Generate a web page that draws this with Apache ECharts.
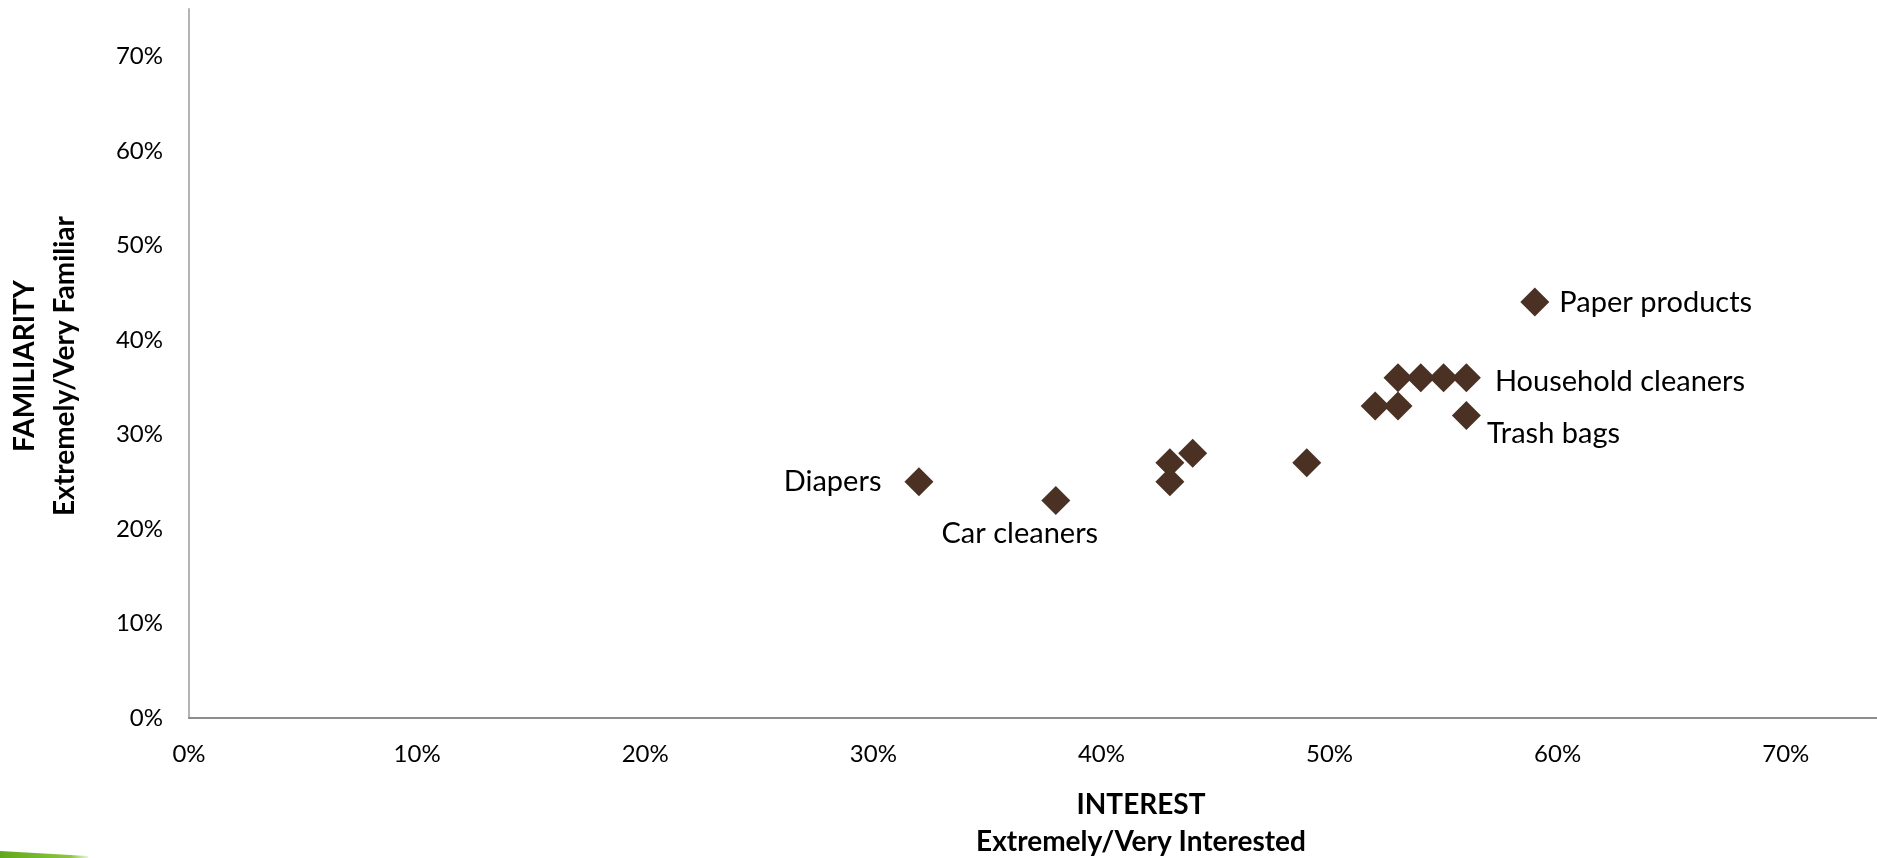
<!DOCTYPE html>
<html>
<head>
<meta charset="utf-8">
<script src="https://cdn.jsdelivr.net/npm/echarts@6/dist/echarts.min.js"></script>
<style>
  html, body { margin: 0; padding: 0; background: #fff; }
  #chart { width: 1877px; height: 858px; }
</style>
</head>
<body>
<div id="chart"></div>
<script>
// Product categories: share extremely/very interested (x) vs familiar (y)
const interest    = [0.32, 0.38, 0.43, 0.43, 0.44, 0.49, 0.52, 0.53, 0.53, 0.54, 0.55, 0.56, 0.56, 0.59];
const familiarity = [0.25, 0.23, 0.27, 0.25, 0.28, 0.27, 0.33, 0.33, 0.36, 0.36, 0.36, 0.36, 0.32, 0.44];
const pointNames  = ['Diapers', 'Car cleaners', '', '', '', '', '', '', '', '', '', 'Household cleaners', 'Trash bags', 'Paper products'];
const xTitle = ['INTEREST', 'Extremely/Very Interested'];
const yTitle = ['FAMILIARITY', 'Extremely/Very Familiar'];

const FONT = 'Lato';
const TEXT = '#000000';

// where each named point's label sits relative to its marker
const labelPlacement = {
  'Diapers':            { position: 'left',   distance: 23, offset: [0, 0] },
  'Car cleaners':       { position: 'bottom', distance: 4,  offset: [-36, 0] },
  'Household cleaners': { position: 'right',  distance: 14, offset: [0, 4] },
  'Trash bags':         { position: 'right',  distance: 6,  offset: [0, 18] },
  'Paper products':     { position: 'right',  distance: 10, offset: [0, 1] }
};

const points = interest.map((x, i) => {
  const name = pointNames[i];
  const item = { name: name, value: [x, familiarity[i]] };
  if (name && labelPlacement[name]) {
    item.label = Object.assign({ show: true }, labelPlacement[name]);
  }
  return item;
});

const pct = v => Math.round(v * 100) + '%';

const chart = echarts.init(document.getElementById('chart'), null, { renderer: 'canvas' });
chart.setOption({
  backgroundColor: '#ffffff',
  animation: false,
  grid: { left: 189, right: 0, top: 9, bottom: 140, containLabel: false },
  xAxis: {
    type: 'value', min: 0, max: 0.74, interval: 0.1,
    axisLine: { show: true, lineStyle: { color: '#8C8C8C', width: 2 } },
    axisTick: { show: false },
    splitLine: { show: false },
    axisLabel: { formatter: pct, color: TEXT, fontFamily: FONT, fontSize: 24, margin: 24, showMaxLabel: false }
  },
  yAxis: {
    type: 'value', min: 0, max: 0.75, interval: 0.1,
    axisLine: { show: true, lineStyle: { color: '#B4B4B4', width: 2 } },
    axisTick: { show: false },
    splitLine: { show: false },
    axisLabel: { formatter: pct, color: TEXT, fontFamily: FONT, fontSize: 24, margin: 26, showMaxLabel: false }
  },
  series: [{
    type: 'scatter',
    symbol: 'diamond',
    symbolSize: 29,
    itemStyle: { color: '#4A3124', opacity: 1 },
    label: { show: false, formatter: '{b}', color: TEXT, fontFamily: FONT, fontSize: 29 },
    data: points
  }],
  graphic: [
    {
      type: 'text', z: 10,
      x: 1141, y: 823,
      style: {
        text: xTitle.join('\n'), fill: TEXT, font: 'bold 28px ' + FONT,
        textAlign: 'center', textVerticalAlign: 'middle', lineHeight: 37
      }
    },
    {
      type: 'text', rotation: Math.PI / 2, z: 10,
      x: 45, y: 366,
      style: {
        text: yTitle.join('\n'), fill: TEXT, font: 'bold 28px ' + FONT,
        textAlign: 'center', textVerticalAlign: 'middle', lineHeight: 40
      }
    },
    {
      // green accent stroke in the lower-left corner
      type: 'polygon', z: 10,
      shape: { points: [[0, 851], [88, 856], [88, 858], [0, 858]] },
      style: {
        fill: new echarts.graphic.LinearGradient(0, 0, 1, 0, [
          { offset: 0, color: '#5FA81E' },
          { offset: 0.8, color: '#8CC63F' },
          { offset: 1, color: 'rgba(140,198,63,0.2)' }
        ])
      }
    }
  ]
});
</script>
</body>
</html>
